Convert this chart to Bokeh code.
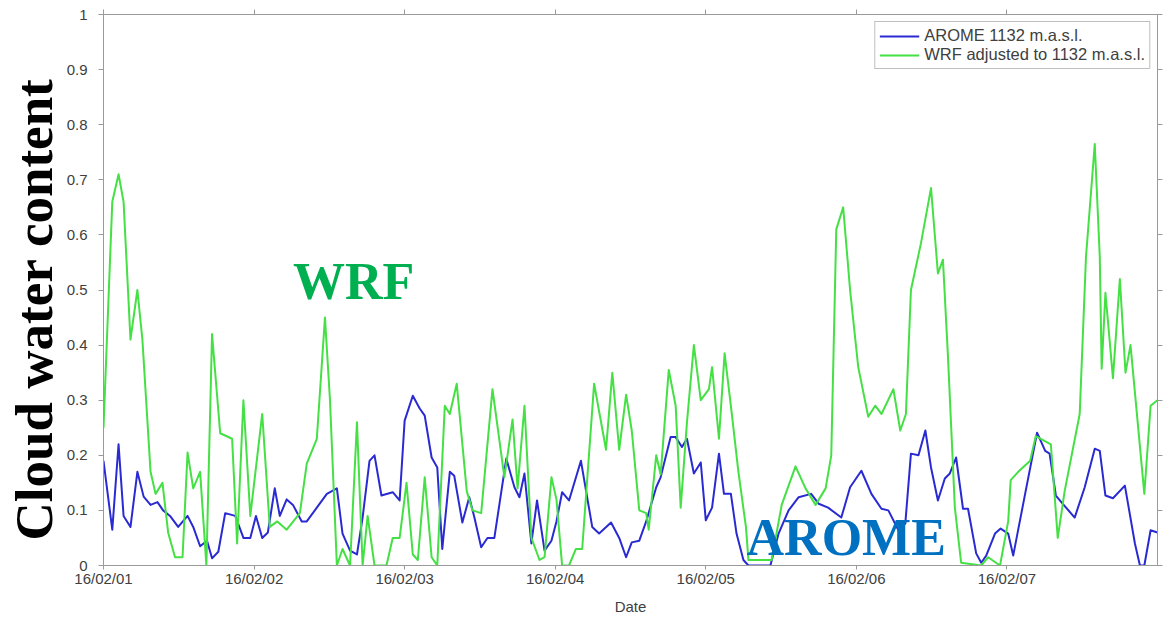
from bokeh.plotting import figure
from bokeh.models import (LinearAxis, FixedTicker, Label, Legend, LegendItem, Range1d, Title,
                          NumeralTickFormatter, CustomLabelingPolicy)
from bokeh.embed import file_html
from bokeh.resources import INLINE

# ---- data (hours since 2016-02-01 00:00, cloud water content) ----
date_tick_hours = [0, 24, 48, 72, 96, 120, 144]
date_tick_labels = ["16/02/01", "16/02/02", "16/02/03", "16/02/04", "16/02/05", "16/02/06", "16/02/07"]
y_ticks = [0, 0.1, 0.2, 0.3, 0.4, 0.5, 0.6, 0.7, 0.8, 0.9, 1]

arome_hours = [0, 1.4, 2.4, 3.2, 4.3, 5.4, 6.4, 7.5, 8.6, 9.5, 10.6, 11.9, 13.4, 14.3, 15.4, 16.5, 17.3, 18.3,
               19.4, 21.0, 22.3, 23.4, 24.3, 25.3, 26.2, 27.3, 28.1, 29.2, 30.2, 31.6, 32.4, 34.0, 35.6, 37.2,
               38.1, 39.3, 40.4, 41.3, 42.4, 43.2, 44.3, 46.1, 47.2, 48.0, 49.3, 50.4, 51.2, 52.3, 53.2, 54.0,
               55.2, 55.9, 57.2, 58.3, 59.1, 60.2, 61.2, 62.3, 64.2, 65.5, 66.3, 67.1, 68.2, 69.1, 70.3, 71.4,
               72.2, 73.1, 74.2, 76.1, 77.9, 79.0, 80.9, 82.2, 83.3, 84.2, 85.4, 86.5, 88.1, 88.8, 90.4, 91.2,
               92.2, 93.0, 94.1, 95.2, 96.0, 97.0, 98.1, 98.9, 100.0, 100.9, 102.0, 102.8, 106.3, 107.6, 109.2,
               110.8, 112.8, 114.0, 115.5, 117.6, 119.0, 120.8, 122.4, 124.0, 125.1, 126.7, 127.8, 128.7, 129.9,
               131.0, 131.9, 133.0, 134.1, 134.9, 135.9, 137.0, 137.8, 139.1, 139.9, 140.7, 142.1, 143.0, 144.2,
               145.0, 146.9, 148.8, 150.1, 150.8, 151.8, 152.9, 154.8, 156.4, 158.0, 158.8, 159.7, 160.9, 162.8,
               164.4, 165.2, 165.9, 166.9, 168.0]
arome_values = [0.19, 0.065, 0.22, 0.09, 0.07, 0.17, 0.125, 0.11, 0.115, 0.10, 0.09, 0.07, 0.09, 0.07, 0.035, 0.045,
                0.013, 0.025, 0.095, 0.09, 0.05, 0.05, 0.09, 0.05, 0.06, 0.14, 0.09, 0.12, 0.11, 0.08, 0.08, 0.105,
                0.13, 0.14, 0.058, 0.027, 0.02, 0.087, 0.19, 0.20, 0.127, 0.133, 0.118, 0.263, 0.308, 0.285, 0.272,
                0.196, 0.178, 0.03, 0.17, 0.163, 0.078, 0.124, 0.088, 0.033, 0.05, 0.05, 0.194, 0.142, 0.124, 0.167,
                0.04, 0.118, 0.027, 0.045, 0.08, 0.133, 0.118, 0.19, 0.07, 0.058, 0.078, 0.05, 0.015, 0.042, 0.045,
                0.08, 0.142, 0.16, 0.233, 0.233, 0.215, 0.23, 0.167, 0.187, 0.082, 0.105, 0.203, 0.13, 0.13, 0.058,
                0.01, 0.0, 0.0, 0.058, 0.10, 0.124, 0.13, 0.112, 0.105, 0.087, 0.142, 0.172, 0.13, 0.103, 0.10,
                0.064, 0.076, 0.203, 0.20, 0.245, 0.178, 0.118, 0.158, 0.167, 0.196, 0.103, 0.103, 0.022, 0.005,
                0.018, 0.058, 0.067, 0.058, 0.018, 0.13, 0.241, 0.208, 0.203, 0.127, 0.112, 0.087, 0.142, 0.212,
                0.208, 0.127, 0.122, 0.145, 0.04, 0.0, 0.0, 0.064, 0.06]

wrf_hours = [0, 1.4, 2.4, 3.2, 4.3, 5.4, 6.2, 7.5, 8.3, 9.4, 10.3, 11.4, 12.6, 13.4, 14.3, 15.4, 16.4, 17.3, 18.6,
             20.5, 21.3, 22.3, 23.4, 25.3, 26.5, 27.7, 29.2, 31.3, 32.4, 34.0, 35.3, 36.1, 37.2, 38.1, 39.3, 40.4,
             41.3, 42.1, 43.2, 45.1, 46.1, 47.2, 48.3, 49.3, 50.1, 51.2, 52.3, 53.2, 54.4, 55.2, 56.3, 57.9, 58.8,
             60.2, 62.0, 63.9, 65.2, 66.0, 67.1, 68.2, 69.5, 70.3, 71.4, 72.2, 73.1, 74.2, 75.3, 76.3, 78.2, 80.1,
             81.1, 82.2, 83.3, 84.2, 85.4, 86.5, 86.9, 88.1, 88.8, 90.1, 91.2, 92.0, 93.0, 94.1, 95.2, 96.5, 97.0,
             98.1, 99.0, 100.1, 101.2, 102.4, 102.8, 106.5, 108.1, 110.3, 111.9, 113.5, 115.1, 116.0, 116.8, 117.9,
             119.0, 120.3, 121.9, 123.0, 124.0, 125.9, 127.0, 127.9, 128.7, 130.3, 131.9, 133.0, 133.8, 134.6,
             135.7, 136.7, 139.9, 141.0, 142.9, 144.2, 144.6, 145.8, 147.7, 148.6, 151.0, 152.1, 153.2, 155.6,
             156.6, 158.0, 158.8, 159.1, 159.7, 160.9, 162.0, 162.9, 163.7, 165.9, 166.9, 168.0]
wrf_values = [0.25, 0.66, 0.71, 0.66, 0.41, 0.50, 0.41, 0.17, 0.13, 0.15, 0.06, 0.015, 0.015, 0.205, 0.14, 0.17,
              0.0, 0.42, 0.24, 0.23, 0.04, 0.30, 0.09, 0.275, 0.07, 0.08, 0.065, 0.095, 0.185, 0.23, 0.45, 0.30,
              0.0, 0.03, 0.0, 0.26, 0.0, 0.09, 0.0, 0.0, 0.05, 0.05, 0.15, 0.02, 0.01, 0.16, 0.015, 0.0, 0.29,
              0.275, 0.33, 0.135, 0.10, 0.095, 0.32, 0.16, 0.265, 0.14, 0.29, 0.05, 0.01, 0.015, 0.16, 0.12, 0.0,
              0.0, 0.03, 0.03, 0.33, 0.21, 0.35, 0.21, 0.31, 0.245, 0.10, 0.095, 0.065, 0.20, 0.165, 0.355, 0.29,
              0.105, 0.26, 0.40, 0.30, 0.32, 0.36, 0.23, 0.385, 0.28, 0.17, 0.07, 0.01, 0.01, 0.11, 0.18, 0.14,
              0.11, 0.14, 0.20, 0.61, 0.65, 0.50, 0.36, 0.27, 0.29, 0.275, 0.32, 0.245, 0.275, 0.50, 0.585, 0.685,
              0.53, 0.555, 0.38, 0.105, 0.005, 0.0, 0.015, 0.0, 0.08, 0.155, 0.17, 0.19, 0.235, 0.22, 0.05, 0.135,
              0.275, 0.56, 0.765, 0.56, 0.357, 0.495, 0.34, 0.52, 0.35, 0.40, 0.13, 0.29, 0.30]

series_names = ["AROME 1132 m.a.s.l.", "WRF adjusted to 1132 m.a.s.l."]
y_title = "Cloud water content"

# ---- styling ----
BLUE = "#2a2ad2"
GREEN = "#44e044"
AXIS_GRAY = "#9a9a9a"
TEXT_GRAY = "#404040"

p = figure(width=1166, height=617, output_backend="svg", toolbar_location=None,
           x_range=Range1d(0, 168), y_range=Range1d(0, 1),
           min_border_left=103, min_border_right=7, min_border_top=14, min_border_bottom=52)
p.xgrid.visible = False
p.ygrid.visible = False
p.outline_line_color = AXIS_GRAY
p.background_fill_color = "white"
p.border_fill_color = "white"

r_arome = p.line(arome_hours, arome_values, line_color=BLUE, line_width=2, line_join="round")
r_wrf = p.line(wrf_hours, wrf_values, line_color=GREEN, line_width=2, line_join="round")

xa = p.xaxis[0]
xa.ticker = FixedTicker(ticks=date_tick_hours, minor_ticks=[])
xa.major_label_overrides = {h: l for h, l in zip(date_tick_hours, date_tick_labels)}
xa.axis_label = "Date"
xa.axis_label_text_font = "Liberation Sans"
xa.axis_label_text_font_style = "normal"
xa.axis_label_text_font_size = "15px"
xa.axis_label_text_color = TEXT_GRAY
xa.axis_label_standoff = 8
xa.major_label_standoff = 0
xa.major_tick_out = 4

ya = p.yaxis[0]
ya.ticker = FixedTicker(ticks=y_ticks, minor_ticks=[])
ya.formatter = NumeralTickFormatter(format="0.[0]")
ya.major_label_standoff = 11
ya.major_tick_out = 5

for ax in (xa, ya):
    ax.axis_line_color = AXIS_GRAY
    ax.major_tick_line_color = AXIS_GRAY
    ax.major_tick_in = 0
    ax.minor_tick_line_color = None
    ax.major_label_text_font = "Liberation Sans"
    ax.major_label_text_font_size = "15px"
    ax.major_label_text_color = TEXT_GRAY

hide_all = "for (const i of indices) { indices.unset(i) }\nreturn indices"
top = LinearAxis(ticker=FixedTicker(ticks=date_tick_hours, minor_ticks=[]),
                 major_label_policy=CustomLabelingPolicy(code=hide_all),
                 major_label_text_font_size="1px", major_label_standoff=0,
                 axis_line_color=AXIS_GRAY, major_tick_line_color=AXIS_GRAY,
                 major_tick_out=5, major_tick_in=0, minor_tick_line_color=None)
right = LinearAxis(ticker=FixedTicker(ticks=y_ticks, minor_ticks=[]),
                   major_label_policy=CustomLabelingPolicy(code=hide_all),
                   major_label_text_font_size="1px", major_label_standoff=0,
                   axis_line_color=AXIS_GRAY, major_tick_line_color=AXIS_GRAY,
                   major_tick_out=5, major_tick_in=0, minor_tick_line_color=None)
p.add_layout(top, "above")
p.add_layout(right, "right")

# big vertical y title placed as a left-side title, starting a little above the frame bottom
ytitle = Title(text=y_title, align="left", offset=25, standoff=2,
               text_font="Liberation Serif", text_font_style="bold", text_font_size="53px",
               text_color="black")
p.add_layout(ytitle, "left")

legend = Legend(items=[LegendItem(label=series_names[0], renderers=[r_arome]),
                       LegendItem(label=series_names[1], renderers=[r_wrf])],
                location="top_right")
legend.label_text_font = "Liberation Sans"
legend.label_text_font_size = "16.5px"
legend.label_text_color = TEXT_GRAY
legend.border_line_color = "#808080"
legend.border_line_width = 1
legend.background_fill_color = "white"
legend.background_fill_alpha = 1
legend.glyph_width = 40
legend.glyph_height = 14
legend.label_height = 14
legend.label_standoff = 5
legend.spacing = 0
legend.padding = 4
legend.margin = 7
p.add_layout(legend)

wrf_lbl = Label(x=30.2, y=0.515, text="WRF", text_font="Liberation Serif", text_font_style="bold",
                text_font_size="52px", text_color="#00b050", text_baseline="middle")
arome_lbl = Label(x=102.5, y=0.051, text="AROME", text_font="Liberation Serif", text_font_style="bold",
                  text_font_size="52px", text_color="#0070c0", text_baseline="middle")
p.add_layout(wrf_lbl)
p.add_layout(arome_lbl)

open("out.html", "w").write(file_html(p, INLINE))
